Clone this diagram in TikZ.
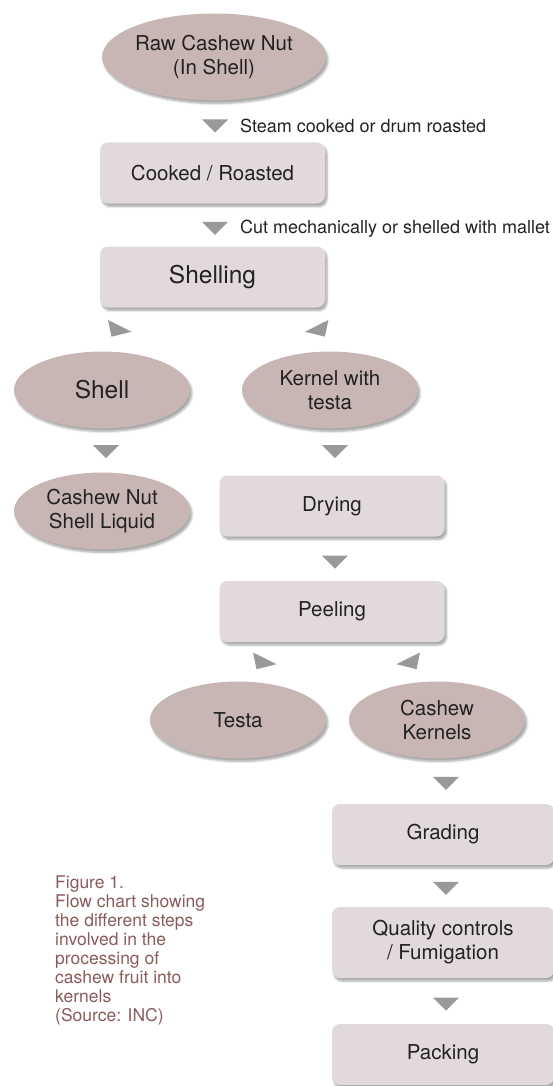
\documentclass[tikz,border=0pt]{standalone}
\usepackage{fontspec}
\setmainfont{TeX Gyre Heros}
\usetikzlibrary{shapes.geometric,shadows.blur,positioning}
\definecolor{nutfill}{HTML}{C8B6B4}
\definecolor{stepfill}{HTML}{E2DADA}
\definecolor{tipgray}{HTML}{999999}
\definecolor{captext}{HTML}{8A5B5A}
\definecolor{inktext}{HTML}{222222}

\begin{document}
\begin{tikzpicture}[x=1pt, y=-1pt,
  shade/.style={blur shadow={shadow xshift=2pt, shadow yshift=-3pt, shadow opacity=35, shadow blur steps=6}},
  product/.style={ellipse, fill=nutfill, shade, minimum width=176pt, minimum height=77pt, inner sep=0pt,
    align=center, text=inktext, font=\fontsize{20.5}{24}\selectfont},
  stepbox/.style={rectangle, rounded corners=8pt, fill=stepfill, shade, minimum width=225pt, minimum height=61pt,
    inner sep=0pt, align=center, text=inktext, font=\fontsize{20.5}{24}\selectfont},
  big/.style={font=\fontsize{24.5}{28}\selectfont},
  note/.style={anchor=west, inner sep=0pt, text=inktext, font=\fontsize{18}{21}\selectfont},
  tip/.style={fill=tipgray}]
\useasboundingbox (0,0) rectangle (552,1086);
\node[product, minimum width=224pt, minimum height=87pt] (raw) at (214,57) {Raw Cashew Nut\\(In Shell)};
\node[stepbox] (cooked) at (212.5,173) {Cooked / Roasted};
\node[stepbox, big] (shelling) at (212.5,277) {Shelling};
\node[product, big] (shell) at (102,390) {Shell};
\node[product] (kernel) at (330,390) {Kernel with\\testa};
\node[product] (cnsl) at (102,511) {Cashew Nut\\Shell Liquid};
\node[stepbox] (drying) at (332,506) {Drying};
\node[stepbox] (peeling) at (332,611.5) {Peeling};
\node[product] (testa) at (238,720) {Testa};
\node[product] (kernels) at (437,720) {Cashew\\Kernels};
\node[stepbox, minimum width=222pt] (grading) at (443,834.5) {Grading};
\node[stepbox, minimum width=222pt, minimum height=71pt] (quality) at (443,942.5) {Quality controls\\/ Fumigation};
\node[stepbox, minimum width=222pt] (packing) at (443,1054.5) {Packing};
\foreach \x/\y in {215/126, 215/228.3, 106/451.7, 335/451.7, 335/562, 446/783.3, 446/888.3, 446/1004}
  \fill[tip] (\x-13,\y-6.5) -- (\x+13,\y-6.5) -- (\x,\y+6.5) -- cycle;
\foreach \x/\y/\s in {117/329.5/1, 319.4/329.5/-1, 262/662/1, 411/662/-1}
  \fill[tip] (\x,\y) ++(-9*\s,-9.5) -- ++(23.5*\s,11.7) -- ++(-20*\s,5) -- cycle;
\node[note] (steam) at (240,126) {Steam cooked or drum roasted};
\node[note] (cut) at (240,229) {Cut mechanically or shelled with mallet};
\node[anchor=north west, inner sep=0pt, align=left, text=captext, font=\fontsize{17.5}{19}\selectfont] (caption)
  at (55,876) {Figure 1.\\Flow chart showing\\the different steps\\involved in the\\processing of\\cashew fruit into\\kernels\\(Source: INC)};
\end{tikzpicture}
\end{document}
